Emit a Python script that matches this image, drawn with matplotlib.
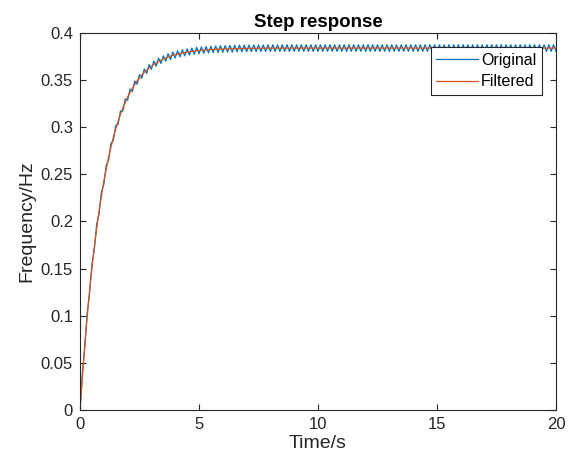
import numpy as np
import matplotlib.pyplot as plt

plt.rcParams['font.family'] = ['Liberation Sans', 'DejaVu Sans']

# Original signal, read every 0.1 s (peaks and troughs of the ripple)
orig_t = np.arange(201) * 0.1
orig_vals = [
    0.0, 0.0401, 0.0661, 0.1030, 0.1231, 0.1546, 0.1698, 0.1968, 0.2080, 0.2314,
    0.2392, 0.2597, 0.2648, 0.2829, 0.2858, 0.3018, 0.3030, 0.3173, 0.3170, 0.3301,
    0.3285, 0.3405, 0.3380, 0.3490, 0.3457, 0.3560, 0.3520, 0.3617, 0.3572, 0.3664,
    0.3614, 0.3702, 0.3648, 0.3733, 0.3677, 0.3759, 0.3700, 0.3780, 0.3719, 0.3797,
    0.3735, 0.3811, 0.3747, 0.3823, 0.3758, 0.3832, 0.3766, 0.3840, 0.3773, 0.3847,
    0.3779, 0.3852, 0.3784, 0.3856, 0.3788, 0.3859, 0.3791, 0.3862, 0.3793, 0.3865,
    0.3795, 0.3866, 0.3797, 0.3868, 0.3798, 0.3869, 0.3800, 0.3870, 0.3801, 0.3871,
    0.3802, 0.3872, 0.3802, 0.3873, 0.3803, 0.3873, 0.3803, 0.3873, 0.3803, 0.3874,
    0.3804, 0.3874, 0.3804, 0.3874, 0.3804, 0.3875, 0.3805, 0.3875, 0.3805, 0.3875,
    0.3805, 0.3875, 0.3805, 0.3875, 0.3805, 0.3875, 0.3805, 0.3875, 0.3805, 0.3875,
    0.3805, 0.3875, 0.3805, 0.3875, 0.3805, 0.3875, 0.3805, 0.3875, 0.3805, 0.3875,
    0.3805, 0.3875, 0.3805, 0.3875, 0.3805, 0.3875, 0.3805, 0.3875, 0.3805, 0.3875,
    0.3805, 0.3875, 0.3805, 0.3875, 0.3805, 0.3875, 0.3805, 0.3875, 0.3805, 0.3875,
    0.3805, 0.3875, 0.3805, 0.3875, 0.3805, 0.3875, 0.3805, 0.3875, 0.3805, 0.3875,
    0.3805, 0.3875, 0.3805, 0.3875, 0.3805, 0.3875, 0.3805, 0.3875, 0.3805, 0.3875,
    0.3805, 0.3875, 0.3805, 0.3875, 0.3805, 0.3875, 0.3805, 0.3875, 0.3805, 0.3875,
    0.3805, 0.3875, 0.3805, 0.3875, 0.3805, 0.3875, 0.3805, 0.3875, 0.3805, 0.3875,
    0.3805, 0.3875, 0.3805, 0.3875, 0.3805, 0.3875, 0.3805, 0.3875, 0.3805, 0.3875,
    0.3805, 0.3875, 0.3805, 0.3875, 0.3805, 0.3875, 0.3805, 0.3875, 0.3805, 0.3875,
    0.3805, 0.3875, 0.3805, 0.3875, 0.3805, 0.3875, 0.3805, 0.3875, 0.3805, 0.3875,
    0.3805,
]

# Filtered signal (smooth)
filt_t = [0.0, 0.2, 0.4, 0.6, 0.8, 1.0, 1.2, 1.4, 1.6, 1.8, 2.0, 2.2, 2.4, 2.6,
          2.8, 3.0, 3.2, 3.4, 3.6, 3.8, 4.0, 4.2, 4.4, 4.6, 4.8, 5.0, 5.5, 6.0,
          7.0, 8.0, 10.0, 12.0, 14.0, 16.0, 18.0, 20.0]
filt_vals = [0.0, 0.0696, 0.1266, 0.1733, 0.2115, 0.2427, 0.2683, 0.2893, 0.3065,
             0.3205, 0.3320, 0.3415, 0.3492, 0.3555, 0.3607, 0.3649, 0.3683, 0.3712,
             0.3735, 0.3754, 0.3770, 0.3782, 0.3793, 0.3801, 0.3808, 0.3814, 0.3824,
             0.3830, 0.3837, 0.3839, 0.3840, 0.3840, 0.3840, 0.3840, 0.3840, 0.3840]

xticks = [0, 5, 10, 15, 20]
yticks = [0, 0.05, 0.1, 0.15, 0.2, 0.25, 0.3, 0.35, 0.4]
ytick_labels = ['0', '0.05', '0.1', '0.15', '0.2', '0.25', '0.3', '0.35', '0.4']

axcol = '#262626'
fig = plt.figure(figsize=(5.74, 4.62), dpi=100)
ax = fig.add_axes([0.1394, 0.1126, 0.8292, 0.8160])

ax.plot(orig_t, orig_vals, color='#0072BD', lw=0.9, label='Original')
ax.plot(filt_t, filt_vals, color='#D95319', lw=0.9, label='Filtered')

ax.set_xlim(0, 20)
ax.set_ylim(0, 0.4)
ax.set_xticks(xticks)
ax.set_yticks(yticks)
ax.set_yticklabels(ytick_labels)
ax.tick_params(direction='in', top=True, right=True, length=4, width=0.8,
               colors=axcol, labelsize=12, labelcolor=axcol, pad=5)
for s in ax.spines.values():
    s.set_color(axcol)
    s.set_linewidth(0.8)

ax.set_xlabel('Time/s', fontsize=14, color=axcol, labelpad=2)
ax.set_ylabel('Frequency/Hz', fontsize=14, color=axcol, labelpad=4)
ax.set_title('Step response', fontsize=13.5, fontweight='bold', color='black', pad=4)

leg = ax.legend(loc='upper right', bbox_to_anchor=(0.9706, 0.963), borderaxespad=0,
                fancybox=False, framealpha=1, edgecolor=axcol, fontsize=11.5,
                handlelength=2.6, handletextpad=0.2, borderpad=0.35, labelspacing=0.42)
leg.get_frame().set_linewidth(0.8)

fig.savefig('out.png', dpi=100)
